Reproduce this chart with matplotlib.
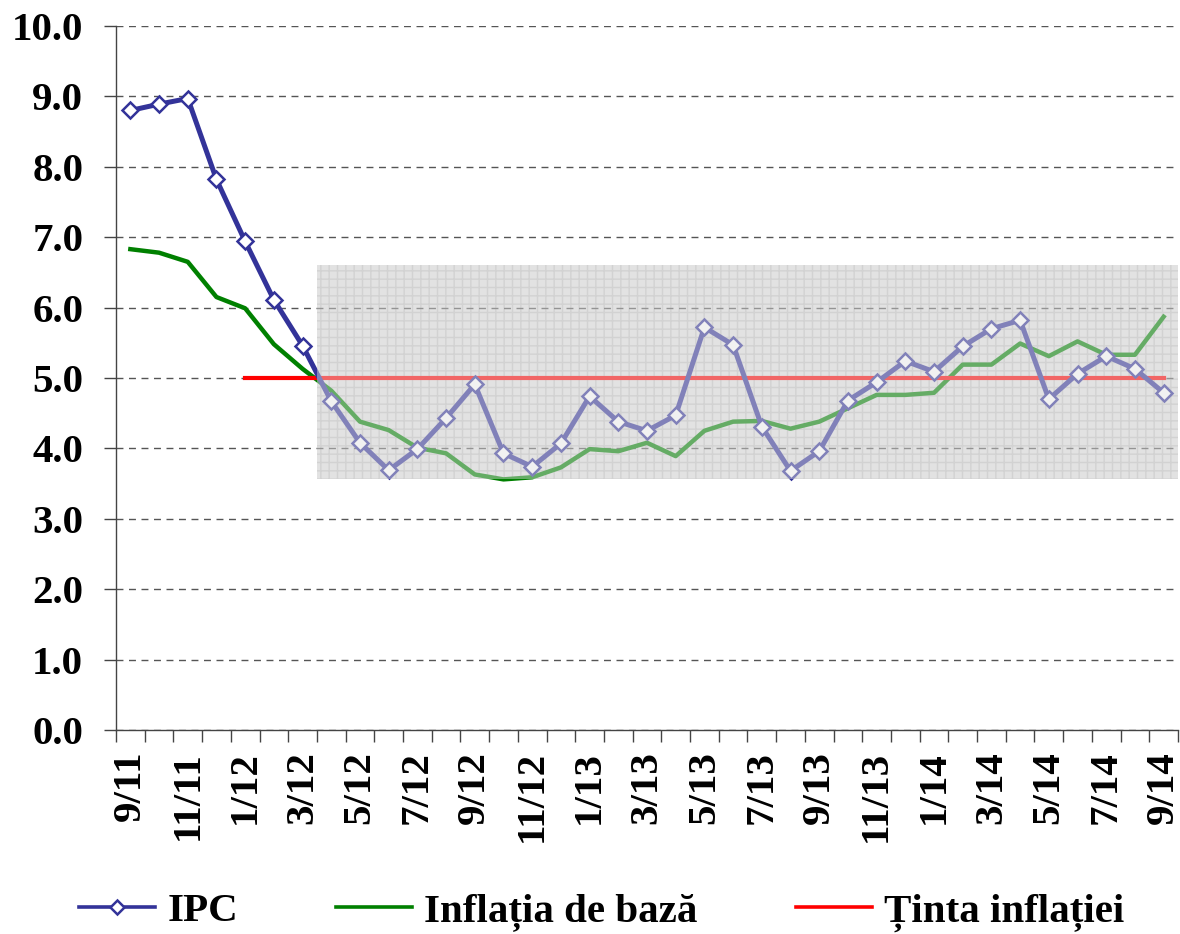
"""Inflation (IPC) vs core inflation and the 5% target, 9/11 - 9/14."""

import numpy as np
from matplotlib import pyplot as plt

months = [
    "9/11", "10/11", "11/11", "12/11",
    "1/12", "2/12", "3/12", "4/12", "5/12", "6/12", "7/12", "8/12",
    "9/12", "10/12", "11/12", "12/12",
    "1/13", "2/13", "3/13", "4/13", "5/13", "6/13", "7/13", "8/13",
    "9/13", "10/13", "11/13", "12/13",
    "1/14", "2/14", "3/14", "4/14", "5/14", "6/14", "7/14", "8/14", "9/14",
]
ipc = [
    8.80, 8.89, 8.97, 7.82, 6.94, 6.11, 5.46, 4.67, 4.08, 3.69, 3.99, 4.43,
    4.91, 3.93, 3.74, 4.07, 4.74, 4.38, 4.25, 4.47, 5.72, 5.47, 4.31, 3.68,
    3.96, 4.68, 4.94, 5.24, 5.09, 5.45, 5.70, 5.82, 4.70, 5.06, 5.31, 5.13,
    4.79,
]
core = [
    6.83, 6.78, 6.65, 6.15, 5.99, 5.48, 5.13, 4.82, 4.38, 4.26, 4.01, 3.93,
    3.63, 3.56, 3.59, 3.73, 3.99, 3.96, 4.08, 3.89, 4.25, 4.38, 4.39, 4.28,
    4.38, 4.57, 4.76, 4.76, 4.79, 5.19, 5.19, 5.49, 5.31, 5.52, 5.33, 5.33,
    5.87,
]
target_value = 5.0
target_from = "1/12"
band_from = "4/12"
band_low, band_high = 3.56, 6.60

x = np.arange(len(months))
target = np.where(x >= months.index(target_from), target_value, np.nan)

plt.rcParams["font.family"] = ["Liberation Serif", "DejaVu Serif"]
plt.rcParams["font.weight"] = "bold"
plt.rcParams["hatch.linewidth"] = 1.0
plt.rcParams["hatch.color"] = "#c6c6c6"

fig = plt.figure(figsize=(11.8, 9.34), dpi=100)
ax = fig.add_axes([116 / 1180, 204 / 934, 1062 / 1180, 704 / 934])

# shaded tolerance band: solid layer below the lines, faint layer above
band_x = [months.index(band_from) - 0.5, len(months) - 0.5]
ax.fill_between(band_x, band_low, band_high, facecolor="#e2e2e2",
                edgecolor="#c6c6c6", hatch="++", linewidth=0, zorder=0.2)
ax.fill_between(band_x, band_low, band_high, facecolor="#e2e2e2",
                edgecolor="none", linewidth=0, alpha=0.45, zorder=5)

ax.plot(x, ipc, color="#333399", lw=3.6, marker="D", ms=8,
        mfc="white", mec="#333399", mew=1.8, label="IPC", zorder=3)
ax.plot(x, core, color="#008000", lw=3.2, label="Inflația de bază", zorder=2)
ax.plot(x, target, color="#ff0000", lw=3.0, label="Ținta inflației", zorder=2.5)

ax.set_xlim(-0.5, len(months) - 0.5)
ax.set_ylim(0, 10)
ax.set_yticks(np.arange(0, 10.01, 1.0))
ax.set_yticklabels([f"{v:.1f}" for v in np.arange(0, 10.01, 1.0)])
ax.set_xticks(np.arange(-0.5, len(months), 1.0))
ax.set_xticklabels([])
ax.set_xticks(x[::2], minor=True)
ax.set_xticklabels(months[::2], minor=True, rotation=90)
ax.tick_params(axis="x", which="major", length=8.6, width=1, color="#444444",
               direction="out")
ax.tick_params(axis="x", which="minor", length=0, pad=15, labelsize=29.5)
ax.tick_params(axis="y", length=8.6, width=1, color="#444444", pad=15,
               labelsize=29.5)

ax.set_axisbelow(True)
ax.yaxis.grid(True, color="#555555", lw=1.0, linestyle=(0, (5, 4)))
for side in ("top", "right"):
    ax.spines[side].set_visible(False)
for side in ("left", "bottom"):
    ax.spines[side].set_color("#444444")
    ax.spines[side].set_linewidth(1.0)

legend = fig.legend(loc="center", bbox_to_anchor=(0.51, 22 / 934), ncol=3,
                    frameon=False, fontsize=29.5, handlelength=1.85,
                    handletextpad=0.3, columnspacing=2.4)
for line in legend.get_lines():
    line.set_linewidth(2.6)
    line.set_markersize(7)

fig.savefig("out.png", dpi=100)
